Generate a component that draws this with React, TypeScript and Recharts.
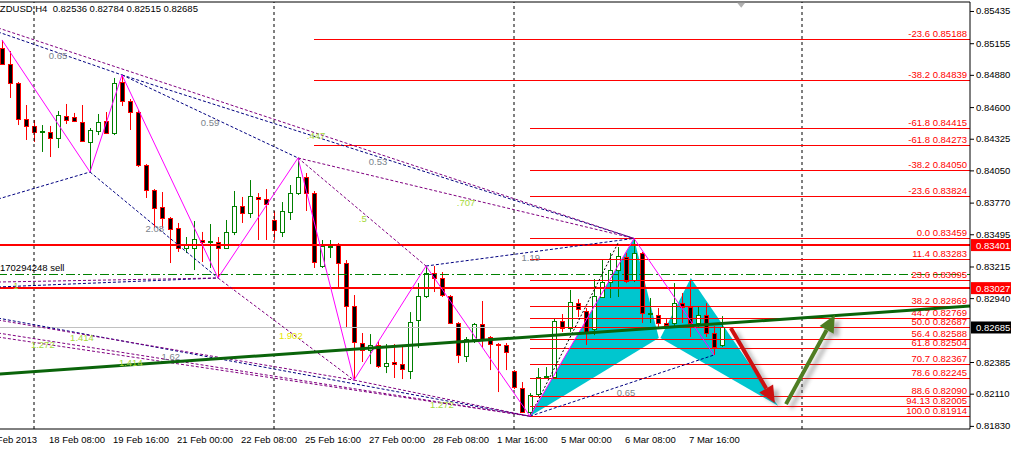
import React from 'react';
import {
  ComposedChart,
  Bar,
  Line,
  XAxis,
  YAxis,
  ReferenceLine,
  ReferenceArea,
  ReferenceDot,
} from 'recharts';

const FONT = '"Liberation Sans", Arial, sans-serif';
const FS = 9.5;

// NZDUSD H4 candles, slot 0 = 15 Feb 08:00
const opens = [
  0.85114, 0.84974, 0.84809, 0.84496, 0.84436, 0.84384, 0.84384, 0.84331, 0.84523, 0.84514,
  0.8447, 0.84297, 0.84392, 0.84479, 0.84375, 0.84818, 0.84653, 0.84557, 0.84097, 0.8388,
  0.83732, 0.83636, 0.83549, 0.83375, 0.83375, 0.83445, 0.83428, 0.83428, 0.83375, 0.83515,
  0.8374, 0.8368, 0.83819, 0.83801, 0.83619, 0.83515, 0.83688, 0.83853, 0.83992, 0.83853,
  0.83219, 0.83384, 0.8341, 0.83245, 0.82871, 0.8255, 0.82489, 0.82533, 0.8235, 0.82385,
  0.82367, 0.82307, 0.8275, 0.82958, 0.83158, 0.83115, 0.82958, 0.82724, 0.82437, 0.82585,
  0.82715, 0.82602, 0.82541, 0.82533, 0.82307, 0.82159, 0.8195, 0.82107, 0.82255, 0.82255,
  0.82741, 0.8268, 0.82897, 0.82828, 0.82672, 0.8295, 0.8308, 0.83184, 0.83297, 0.83097,
  0.83332, 0.82802, 0.82793, 0.82724, 0.82724, 0.82897, 0.82863, 0.82724, 0.82793, 0.82637,
  0.82536,
];
const highs = [
  0.85183, 0.85087, 0.84818, 0.84618, 0.84488, 0.84444, 0.84436, 0.84566, 0.84627, 0.84549,
  0.84618, 0.84418, 0.8454, 0.84557, 0.84853, 0.84879, 0.8467, 0.84575, 0.84105, 0.83888,
  0.83862, 0.83645, 0.83593, 0.83471, 0.8361, 0.83515, 0.83584, 0.83471, 0.83619, 0.83871,
  0.83819, 0.83966, 0.83853, 0.83888, 0.83697, 0.83775, 0.83923, 0.84158, 0.84027, 0.83871,
  0.83445, 0.83445, 0.83419, 0.83271, 0.82967, 0.82637, 0.82628, 0.82567, 0.82541, 0.82541,
  0.82533, 0.82819, 0.83071, 0.83219, 0.83219, 0.83167, 0.82967, 0.82732, 0.82602, 0.82724,
  0.82915, 0.82611, 0.8255, 0.8255, 0.82315, 0.82211, 0.82115, 0.82333, 0.82341, 0.82767,
  0.82802, 0.83011, 0.82932, 0.82854, 0.83106, 0.83271, 0.83332, 0.83384, 0.83332, 0.83459,
  0.83341, 0.82941, 0.82854, 0.82758, 0.83071, 0.82984, 0.83097, 0.82871, 0.82897, 0.82698,
  0.82784,
];
const lows = [
  0.84966, 0.84679, 0.84444, 0.84314, 0.84297, 0.8421, 0.84166, 0.84244, 0.84453, 0.8447,
  0.84297, 0.84036, 0.84357, 0.84366, 0.84357, 0.84609, 0.84401, 0.84079, 0.8381, 0.83549,
  0.83549, 0.83245, 0.83341, 0.83332, 0.83184, 0.83254, 0.83202, 0.83115, 0.83375, 0.83488,
  0.83593, 0.83636, 0.83445, 0.83445, 0.83445, 0.83471, 0.83619, 0.83836, 0.83697, 0.83202,
  0.83202, 0.83289, 0.83037, 0.8268, 0.82228, 0.82385, 0.82367, 0.82333, 0.82289, 0.82246,
  0.82237, 0.82237, 0.82507, 0.82941, 0.82993, 0.8295, 0.82715, 0.82376, 0.82385, 0.8255,
  0.82507, 0.82315, 0.82124, 0.82315, 0.8215, 0.81942, 0.81914, 0.82081, 0.82246, 0.82255,
  0.82646, 0.82646, 0.82776, 0.82533, 0.82619, 0.82941, 0.82941, 0.8295, 0.83071, 0.8308,
  0.82724, 0.82724, 0.8268, 0.82689, 0.82689, 0.82724, 0.82602, 0.8268, 0.82602, 0.82446,
  0.82515,
];
const closes = [
  0.84974, 0.84809, 0.84496, 0.84436, 0.84384, 0.84392, 0.84331, 0.84531, 0.84488, 0.84479,
  0.84305, 0.84401, 0.8447, 0.84375, 0.84809, 0.84653, 0.84557, 0.84097, 0.8388, 0.83723,
  0.83636, 0.83541, 0.83375, 0.83402, 0.83454, 0.83428, 0.83436, 0.83375, 0.83515, 0.8374,
  0.8368, 0.83827, 0.83801, 0.83758, 0.83532, 0.83697, 0.83853, 0.83992, 0.83853, 0.83254,
  0.83393, 0.83393, 0.83245, 0.82871, 0.82559, 0.82489, 0.82533, 0.8235, 0.82376, 0.82367,
  0.82324, 0.82732, 0.82958, 0.83158, 0.83115, 0.82967, 0.82724, 0.82446, 0.82585, 0.82715,
  0.82585, 0.82541, 0.82533, 0.82472, 0.82168, 0.8195, 0.82098, 0.82255, 0.82263, 0.82741,
  0.8268, 0.82906, 0.82845, 0.82646, 0.82958, 0.8308, 0.83184, 0.83306, 0.83089, 0.83332,
  0.82811, 0.82811, 0.82724, 0.82706, 0.82897, 0.82863, 0.82724, 0.82793, 0.82637, 0.82515,
  0.82685,
];

const SLOTS = 121;

// zigzag pivots (slot, price)
const pivotIdx = [0, 11, 15, 27, 37, 44, 53, 66, 79, 89];
const pivotPrice = [0.85183, 0.84036, 0.84879, 0.83115, 0.84158, 0.82228, 0.83219, 0.81914, 0.83459, 0.82446];

const priceTicks = [
  0.85435, 0.85155, 0.8488, 0.846, 0.84325, 0.8405, 0.8377, 0.83495, 0.83215, 0.8294, 0.82385,
  0.8211, 0.8183,
];
const timeTicks = [0, 6, 14, 22, 30, 38, 46, 54, 62, 70, 78, 86];
const timeLabels = [
  '15 Feb 2013', '18 Feb 08:00', '19 Feb 16:00', '21 Feb 00:00', '22 Feb 08:00', '25 Feb 16:00',
  '27 Feb 00:00', '28 Feb 08:00', '1 Mar 16:00', '5 Mar 00:00', '6 Mar 08:00', '7 Mar 16:00',
];
const weekSeparators = [4, 34, 64, 100];

// fibonacci sets
const fibAStart = 39;
const fibALevels = ['-23.6', '-38.2', '-61.8'];
const fibAPrices = [0.85188, 0.84839, 0.84273];
const fibBStart = 66;
const fibBLevels = [
  '-61.8', '-38.2', '-23.6', '0.0', '11.4', '23.6', '38.2', '44.7', '50.0', '56.4', '61.8',
  '70.7', '78.6', '88.6', '94.13', '100.0',
];
const fibBPrices = [
  0.84415, 0.8405, 0.83824, 0.83459, 0.83283, 0.83095, 0.82869, 0.82769, 0.82687, 0.82588,
  0.82504, 0.82367, 0.82245, 0.8209, 0.82005, 0.81914,
];

const resistance = [0.83401, 0.83027];
const orderPrice = 0.8315;
const orderText = '170294248 sell';
const bid = 0.82685;
const header = 'NZDUSD,H4  0.82536 0.82784 0.82515 0.82685';

// trend/harmonic lines: [slot1, price1, slot2, price2]
const navySegs = [
  [-0.5, 0.85253, 15, 0.84879],
  [15, 0.84879, 37, 0.84158],
  [15, 0.84879, 79, 0.83459],
  [-0.5, 0.83801, 11, 0.84036],
  [11, 0.84036, 27, 0.83115],
  [-0.5, 0.83037, 27, 0.83115],
  [53, 0.83219, 79, 0.83459],
  [66, 0.81914, 89, 0.82446],
  [-0.5, 0.82767, 66, 0.81914],
];
const purpleSegs = [
  [-0.5, 0.85288, 79, 0.83459],
  [37, 0.84158, 79, 0.83459],
  [37, 0.84158, 53, 0.83219],
  [27, 0.83115, 44, 0.82228],
  [-0.5, 0.8308, 27, 0.83115],
  [-0.5, 0.8275, 44, 0.82228],
  [-0.5, 0.82637, 66, 0.81914],
  [-0.5, 0.82602, 66, 0.81914],
  [44, 0.82228, 66, 0.81914],
];
const blackDotSeg = [66, 0.81914, 77, 0.83419];
const trendSeg = [-0.5, 0.8228, 121, 0.82871];
const redArrow = [91.1, 0.8268, 96.6, 0.82028];
const greenArrow = [98, 0.82019, 104.1, 0.82793];

// butterfly: X A B  /  B C D
const wingLeft: [number, number][] = [[66, 0.81914], [79, 0.83459], [82.1, 0.82593]];
const wingRight: [number, number][] = [[82.3, 0.82593], [86.1, 0.83115], [97, 0.82005]];

// ratio labels
const ratioText = ['0.65', '0.59', '2.08', '0.53', '.707', '.5', '.447', '1.19', '0.65', '1.902', '1.414', '1.272', '1.62', '1.414', '1.272', '1'];
const ratioSlot = [7, 26, 19.1, 47, 58, 45.1, 39.25, 66.1, 78, 36.1, 10, 5.1, 21.1, 16.1, 55, 1.75];
const ratioPrice = [0.85044, 0.84462, 0.83541, 0.84123, 0.83767, 0.83636, 0.84349, 0.83289, 0.82124, 0.82619, 0.82602, 0.82541, 0.82437, 0.82385, 0.8202, 0.83054];
const ratioTone = ['g', 'g', 'g', 'g', 'l', 'l', 'l', 'g', 'g', 'y', 'l', 'l', 'g', 'l', 'l', 'l'];
const toneColor: Record<string, string> = { g: '#7b838c', l: '#a6d93a', y: '#e6e600' };

const rows = Array.from({ length: SLOTS }, (_, i) => {
  const has = i < opens.length;
  const p = pivotIdx.indexOf(i);
  return {
    i,
    o: has ? opens[i] : null,
    h: has ? highs[i] : null,
    l: has ? lows[i] : null,
    c: has ? closes[i] : null,
    range: has ? [lows[i], highs[i]] : null,
    zz: p >= 0 ? pivotPrice[p] : null,
  };
});

const Candle = (props: any) => {
  const { x, y, width, height, payload } = props;
  if (!payload || payload.h == null) return null;
  const { o, h, l, c } = payload;
  const span = h - l || 1e-9;
  const py = (v: number) => y + ((h - v) / span) * height;
  const cx = Math.round(x + width / 2);
  const up = c >= o;
  const col = up ? '#008000' : '#ff0000';
  const top = Math.round(py(Math.max(o, c)));
  const bot = Math.round(py(Math.min(o, c)));
  return (
    <g>
      <line x1={cx + 0.5} x2={cx + 0.5} y1={y} y2={y + height} stroke={col} />
      <rect
        x={cx - 1.5}
        y={top + 0.5}
        width={4}
        height={Math.max(bot - top, 1)}
        fill={up ? '#ffffff' : '#000000'}
        stroke={col}
      />
    </g>
  );
};

const PriceTick = (props: any) => {
  const { x, y, payload } = props;
  return (
    <g>
      <line x1={x} x2={x + 4} y1={y + 0.5} y2={y + 0.5} stroke="#000" />
      <text x={x + 6} y={y + 3.5} fontSize={FS} fontFamily={FONT} fill="#000">
        {Number(payload.value).toFixed(5)}
      </text>
    </g>
  );
};

const TimeTick = (props: any) => {
  const { x, y, payload } = props;
  const k = timeTicks.indexOf(Number(payload.value));
  if (k < 0) return null;
  const first = k === 0;
  return (
    <text
      x={first ? x + 35 : x - 1}
      y={y + 12}
      textAnchor={first ? 'end' : 'start'}
      fontSize={FS}
      fontFamily={FONT}
      fill="#000"
    >
      {timeLabels[k]}
    </text>
  );
};

const fibShape = (label: string) => (p: any) => {
  const xr = Math.max(p.x1, p.x2);
  const y = Math.round(p.y1) + 0.5;
  return (
    <g>
      <line x1={Math.min(p.x1, p.x2)} x2={xr} y1={y} y2={y} stroke="#ff0000" />
      <text x={xr - 3} y={p.y1 - 2} textAnchor="end" fontSize={FS} fontFamily={FONT} fill="#ff0000">
        {label}
      </text>
    </g>
  );
};

const boxShape = (text: string, line: string, boxFill: string, sw: number) => (p: any) => {
  const xr = Math.max(p.x1, p.x2);
  const xl = Math.min(p.x1, p.x2);
  return (
    <g>
      <line x1={xl} x2={xr} y1={p.y1} y2={p.y2} stroke={line} strokeWidth={sw} />
      <rect x={xr + 1} y={p.y1 - 6} width={42} height={12} fill={boxFill} />
      <text x={xr + 6} y={p.y1 + 3.5} fontSize={FS} fontFamily={FONT} fill="#ffffff">
        {text}
      </text>
    </g>
  );
};

const orderShape = (p: any) => {
  const xl = Math.min(p.x1, p.x2);
  const xr = Math.max(p.x1, p.x2);
  const y = Math.round(p.y1) + 0.5;
  return (
    <g>
      <line x1={xl} x2={xr} y1={y} y2={y} stroke="#008000" strokeDasharray="9 3 2 3" />
      <text x={xl + 2} y={p.y1 - 3} fontSize={FS} fontFamily={FONT} fill="#000">
        {orderText}
      </text>
    </g>
  );
};

const arrowShape = (color: string, id: string) => (p: any) => {
  const { x1, y1, x2, y2 } = p;
  const dx = x2 - x1;
  const dy = y2 - y1;
  const len = Math.hypot(dx, dy) || 1;
  const ux = dx / len;
  const uy = dy / len;
  const nx = -uy;
  const ny = ux;
  const hl = 17;
  const hw = 8;
  const bx = x2 - ux * hl;
  const by = y2 - uy * hl;
  const head = `${x2},${y2} ${bx + nx * hw},${by + ny * hw} ${bx - nx * hw},${by - ny * hw}`;
  return (
    <g>
      <defs>
        <filter id={id} x="-50%" y="-50%" width="200%" height="200%">
          <feGaussianBlur stdDeviation="2" />
        </filter>
      </defs>
      <g transform="translate(5,4)" opacity={0.45} filter={`url(#${id})`}>
        <line x1={x1} y1={y1} x2={bx} y2={by} stroke="#555" strokeWidth={4} />
        <polygon points={head} fill="#555" />
      </g>
      <line x1={x1} y1={y1} x2={bx} y2={by} stroke={color} strokeWidth={4} />
      <polygon points={head} fill={color} />
    </g>
  );
};

const polyShape = (pts: [number, number][], color: string) => (p: any) => {
  const ss = pts.map((q) => q[0]);
  const ps = pts.map((q) => q[1]);
  const s0 = Math.min(...ss);
  const s1 = Math.max(...ss);
  const p0 = Math.min(...ps);
  const p1 = Math.max(...ps);
  const px = (s: number) => p.x + ((s - s0) / (s1 - s0)) * p.width;
  const py = (v: number) => p.y + ((p1 - v) / (p1 - p0)) * p.height;
  return <polygon points={pts.map((q) => `${px(q[0])},${py(q[1])}`).join(' ')} fill={color} />;
};

const wingArea = (pts: [number, number][], key: string) => {
  const ss = pts.map((q) => q[0]);
  const ps = pts.map((q) => q[1]);
  return (
    <ReferenceArea
      key={key}
      xAxisId="n"
      yAxisId="p"
      x1={Math.min(...ss)}
      x2={Math.max(...ss)}
      y1={Math.min(...ps)}
      y2={Math.max(...ps)}
      ifOverflow="visible"
      shape={polyShape(pts, '#00c6cf')}
    />
  );
};

const seg = (s: number[]) => [
  { x: s[0], y: s[1] },
  { x: s[2], y: s[3] },
];

export default function App() {
  return (
    <div
      style={{
        position: 'fixed',
        left: 0,
        top: 0,
        width: 1011,
        height: 449,
        overflow: 'hidden',
        background: '#ffffff',
        fontFamily: FONT,
      }}
    >
      <div style={{ position: 'absolute', left: -2, top: 0 }}>
        <ComposedChart width={1013} height={449} data={rows} margin={{ top: 2, right: 0, bottom: 0, left: 0 }}>
          <XAxis
            xAxisId="c"
            dataKey="i"
            type="category"
            height={20}
            ticks={timeTicks}
            interval={0}
            tick={<TimeTick />}
            tickLine={false}
            tickSize={0}
            axisLine={{ stroke: '#000' }}
            padding={{ left: 0, right: 4 }}
          />
          <XAxis
            xAxisId="n"
            dataKey="i"
            type="number"
            domain={[-0.5, SLOTS - 0.5]}
            allowDataOverflow
            hide
            padding={{ left: 0, right: 4 }}
          />
          <YAxis
            yAxisId="p"
            orientation="right"
            type="number"
            width={41}
            domain={[0.81803, 0.85513]}
            allowDataOverflow
            ticks={priceTicks}
            interval={0}
            tick={<PriceTick />}
            tickLine={false}
            tickSize={0}
            tickMargin={0}
            axisLine={{ stroke: '#000' }}
          />

          {wingArea(wingLeft, 'wl')}
          {wingArea(wingRight, 'wr')}

          <ReferenceLine xAxisId="n" yAxisId="p" y={0.85513} stroke="#000" ifOverflow="visible" />

          {weekSeparators.map((s) => (
            <ReferenceLine
              key={`w${s}`}
              xAxisId="n"
              yAxisId="p"
              x={s}
              stroke="#000"
              strokeDasharray="3 3"
              ifOverflow="visible"
            />
          ))}

          <ReferenceLine xAxisId="n" yAxisId="p" y={bid} ifOverflow="visible" shape={boxShape(bid.toFixed(5), '#c0c0c0', '#000000', 1)} />
          <ReferenceLine xAxisId="n" yAxisId="p" y={orderPrice} ifOverflow="visible" shape={orderShape} />

          {fibAPrices.map((pr, k) => (
            <ReferenceLine
              key={`fa${k}`}
              xAxisId="n"
              yAxisId="p"
              segment={[{ x: fibAStart, y: pr }, { x: SLOTS, y: pr }]}
              ifOverflow="visible"
              shape={fibShape(`${fibALevels[k]} ${pr.toFixed(5)}`)}
            />
          ))}
          {fibBPrices.map((pr, k) => (
            <ReferenceLine
              key={`fb${k}`}
              xAxisId="n"
              yAxisId="p"
              segment={[{ x: fibBStart, y: pr }, { x: SLOTS, y: pr }]}
              ifOverflow="visible"
              shape={fibShape(`${fibBLevels[k]} ${pr.toFixed(5)}`)}
            />
          ))}

          {resistance.map((pr) => (
            <ReferenceLine
              key={`r${pr}`}
              xAxisId="n"
              yAxisId="p"
              y={pr}
              ifOverflow="visible"
              shape={boxShape(pr.toFixed(5), '#ff0000', '#ff0000', 2)}
            />
          ))}

          {navySegs.map((s, k) => (
            <ReferenceLine
              key={`nv${k}`}
              xAxisId="n"
              yAxisId="p"
              segment={seg(s)}
              stroke="#000080"
              strokeDasharray="3 2"
              ifOverflow="visible"
            />
          ))}
          {purpleSegs.map((s, k) => (
            <ReferenceLine
              key={`pu${k}`}
              xAxisId="n"
              yAxisId="p"
              segment={seg(s)}
              stroke="#800080"
              strokeDasharray="3 2"
              ifOverflow="visible"
            />
          ))}
          <ReferenceLine
            xAxisId="n"
            yAxisId="p"
            segment={seg(blackDotSeg)}
            stroke="#000"
            strokeDasharray="2 2"
            ifOverflow="visible"
          />

          <Bar xAxisId="c" yAxisId="p" dataKey="range" shape={Candle} isAnimationActive={false} />
          <Line
            xAxisId="c"
            yAxisId="p"
            dataKey="zz"
            type="linear"
            stroke="#ff00ff"
            strokeWidth={1}
            dot={false}
            activeDot={false}
            connectNulls
            isAnimationActive={false}
          />

          <ReferenceLine
            xAxisId="n"
            yAxisId="p"
            segment={seg(trendSeg)}
            stroke="#0a640a"
            strokeWidth={3}
            ifOverflow="visible"
          />
          <ReferenceLine xAxisId="n" yAxisId="p" segment={seg(redArrow)} ifOverflow="visible" shape={arrowShape('#cc1111', 'shR')} />
          <ReferenceLine xAxisId="n" yAxisId="p" segment={seg(greenArrow)} ifOverflow="visible" shape={arrowShape('#4f7d22', 'shG')} />

          {ratioText.map((t, k) => (
            <ReferenceDot
              key={`rt${k}`}
              xAxisId="n"
              yAxisId="p"
              x={ratioSlot[k]}
              y={ratioPrice[k]}
              r={0}
              ifOverflow="visible"
              shape={(p: any) => (
                <text
                  x={p.cx}
                  y={p.cy + 3.5}
                  textAnchor="middle"
                  fontSize={FS}
                  fontFamily={FONT}
                  fill={toneColor[ratioTone[k]]}
                >
                  {t}
                </text>
              )}
            />
          ))}
          <ReferenceDot
            xAxisId="n"
            yAxisId="p"
            x={92.4}
            y={0.8549}
            r={0}
            ifOverflow="visible"
            shape={(p: any) => (
              <polygon points={`${p.cx - 4},${p.cy - 2} ${p.cx + 4},${p.cy - 2} ${p.cx},${p.cy + 3}`} fill="#b0b0b0" />
            )}
          />
        </ComposedChart>
      </div>
      <div
        style={{
          position: 'absolute',
          left: -7,
          top: 3,
          fontSize: FS,
          lineHeight: '11px',
          whiteSpace: 'pre',
          color: '#000',
          fontFamily: FONT,
        }}
      >
        {header}
      </div>
    </div>
  );
}
